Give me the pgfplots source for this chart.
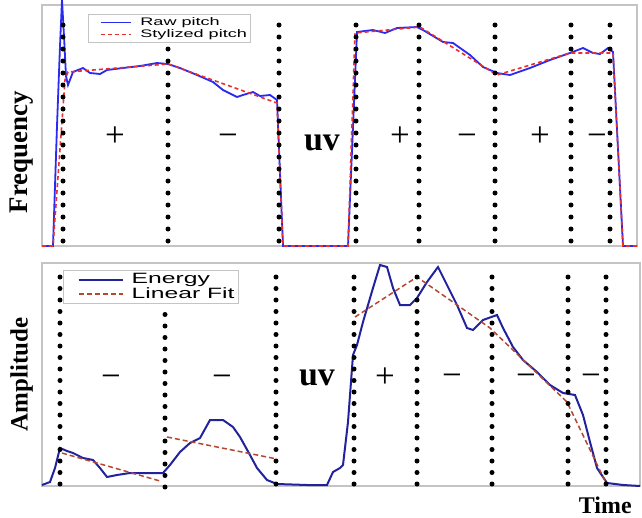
\documentclass[border=0pt]{standalone}
\usepackage{pgfplots}
\pgfplotsset{compat=1.18}
\usepackage{fontspec}
\setmainfont{Liberation Serif}
\newfontfamily\legfont[FakeStretch=1.65]{Liberation Sans}

\definecolor{rawblue}{HTML}{2A2AF2}
\definecolor{stylred}{HTML}{E8312E}
\definecolor{enblue}{HTML}{22239C}
\definecolor{fitred}{HTML}{B5472F}
\definecolor{frame}{HTML}{C4C4C4}

\tikzset{
  sign/.style={font=\fontsize{35}{35}\selectfont, anchor=center},
  uv/.style={font=\fontsize{34}{34}\selectfont\bfseries, anchor=center},
  lab/.style={font=\fontsize{25}{25}\selectfont\bfseries},
}
\pgfplotsset{
  panel/.style={scale only axis, ymin=0, ticks=none, clip=false,
    axis line style={draw=frame, line width=1.2bp},
    legend cell align=left,
    legend style={anchor=north west, draw=frame, line width=0.6bp, fill=white,
                  inner sep=1.5bp, row sep=-1.5bp}},
  dots/.style={black, line width=5bp, line cap=round,
               dash pattern=on 0bp off 12bp, forget plot},
}

\begin{document}
\begin{tikzpicture}
\useasboundingbox (0,0) rectangle (642bp,-518bp);

% ---- pitch panel
\begin{axis}[panel, at={(42bp,-246bp)}, anchor=south west,
  width=595bp, height=241bp, xmin=42, xmax=637, ymax=241,
  ylabel={Frequency}, ylabel style={lab, font=\fontsize{27}{27}\selectfont\bfseries,
    at={(axis description cs:-0.034,0.39)}, anchor=center, rotate=0},
  legend style={at={(axis description cs:0.077,0.963)},
                font=\legfont\fontsize{11}{12}\selectfont},
  every axis plot/.append style={legend image code/.code={%
    \path (0bp,0bp); \draw[##1] (10bp,0bp) -- (40bp,0bp);}}]
\addplot[rawblue, line width=1.8bp] coordinates {
 (42,0)(53,0)(57,120)(60,200)(62,246)(64,210)(66,170)(68,161)(73,174)(83,178)
 (90,173)(100,172)(107,176)(123,178)(140,180)(157,183)(168,182)(180,178)
 (197,171)(213,164)(223,156)(237,149)(243,151)(253,154)(260,150)(270,151)
 (277,146)(283,0)(348,0)(357,214)(373,216)(385,213)(397,218)(417,219)
 (423,216)(443,204)(453,203)(470,191)(483,179)(497,173)(510,171)(530,178)
 (550,186)(570,193)(583,198)(593,193)(600,192)(608,198)(613,194)(623,0)(637,0)};
\addplot[stylred, line width=1.6bp, dash pattern=on 4bp off 3bp] coordinates {
 (42,0)(53,0)(65,166)(68,174)(168,182)(277,143)(283,0)(348,0)(355,213)
 (420,219)(497,171)(570,193)(613,193)(623,0)(637,0)};
\addplot[dots] coordinates {(63,5)(63,225)};
\addplot[dots] coordinates {(168,5)(168,197)};
\addplot[dots] coordinates {(279,5)(279,225)};
\addplot[dots] coordinates {(356,5)(356,225)};
\addplot[dots] coordinates {(419,5)(419,225)};
\addplot[dots] coordinates {(495,5)(495,225)};
\addplot[dots] coordinates {(571,5)(571,225)};
\addplot[dots] coordinates {(610,5)(610,225)};
\legend{\hspace{7bp}Raw pitch, \hspace{7bp}Stylized pitch\hspace{12bp}}
\node[sign] at (axis cs:115,109) {+};
\node[sign] at (axis cs:228,106) {−};
\node[uv]   at (axis cs:322,103) {uv};
\node[sign] at (axis cs:400,109) {+};
\node[sign] at (axis cs:467,106) {−};
\node[sign] at (axis cs:540,109) {+};
\node[sign] at (axis cs:597,106) {−};
\end{axis}

% ---- energy panel
\begin{axis}[panel, at={(42bp,-486bp)}, anchor=south west,
  width=598bp, height=223bp, xmin=42, xmax=640, ymax=223,
  ylabel={Amplitude}, ylabel style={lab, at={(axis description cs:-0.034,0.50)}, anchor=center, rotate=0},
  xlabel={Time}, xlabel style={lab, font=\fontsize{24}{24}\selectfont\bfseries,
    inner sep=0pt, at={(axis description cs:0.942,-0.088)}, anchor=center},
  legend style={at={(axis description cs:0.035,0.969)},
                font=\legfont\fontsize{15}{16}\selectfont},
  every axis plot/.append style={legend image code/.code={%
    \path (0bp,0bp); \draw[##1] (13bp,0bp) -- (57bp,0bp);}}]
\addplot[enblue, line width=2.0bp] coordinates {
 (42,1)(50,4)(55,18)(60,38)(67,35)(73,33)(83,28)(93,26)(100,18)(107,9)
 (117,11)(130,13)(150,13)(163,13)(170,21)(180,34)(190,43)(200,48)(210,66)
 (223,66)(233,59)(240,49)(250,31)(257,18)(267,6)(277,2)(307,1)(327,1)
 (333,14)(340,18)(343,21)(348,64)(353,131)(357,141)(363,164)(373,198)
 (380,221)(387,219)(393,198)(400,181)(410,181)(417,188)(427,204)(438,219)
 (447,201)(457,181)(467,158)(473,156)(483,166)(497,171)(503,158)(513,139)
 (523,126)(537,114)(550,101)(563,93)(575,91)(583,71)(590,44)(597,18)
 (607,3)(623,1)(640,0)};
\addplot[fitred, line width=1.5bp, dash pattern=on 5bp off 3bp] coordinates {
 (62,33)(160,5)};
\addplot[fitred, line width=1.5bp, dash pattern=on 5bp off 3bp, forget plot] coordinates {
 (167,49)(277,27)};
\addplot[fitred, line width=1.5bp, dash pattern=on 5bp off 3bp, forget plot] coordinates {
 (355,169)(417,209)(490,158)(567,84)(607,1)};
\addplot[dots, dash pattern=on 0bp off 11.5bp] coordinates {(60,2)(60,209)};
\addplot[dots, dash pattern=on 0bp off 11.5bp] coordinates {(165,-1)(165,182)};
\addplot[dots, dash pattern=on 0bp off 11.5bp] coordinates {(276,2)(276,209)};
\addplot[dots, dash pattern=on 0bp off 11.5bp] coordinates {(354,2)(354,209)};
\addplot[dots, dash pattern=on 0bp off 11.5bp] coordinates {(417,2)(417,209)};
\addplot[dots, dash pattern=on 0bp off 11.5bp] coordinates {(492,2)(492,209)};
\addplot[dots, dash pattern=on 0bp off 11.5bp] coordinates {(568,2)(568,209)};
\addplot[dots, dash pattern=on 0bp off 11.5bp] coordinates {(606,2)(606,209)};
\legend{\hspace{6bp}Energy, \hspace{6bp}Linear Fit\hspace{12bp}}
\node[sign] at (axis cs:111,105) {−};
\node[sign] at (axis cs:222,105) {−};
\node[uv]   at (axis cs:317,108) {uv};
\node[sign] at (axis cs:385,108) {+};
\node[sign] at (axis cs:452,106) {−};
\node[sign] at (axis cs:526,106) {−};
\node[sign] at (axis cs:591,106) {−};
\end{axis}
\end{tikzpicture}
\end{document}
